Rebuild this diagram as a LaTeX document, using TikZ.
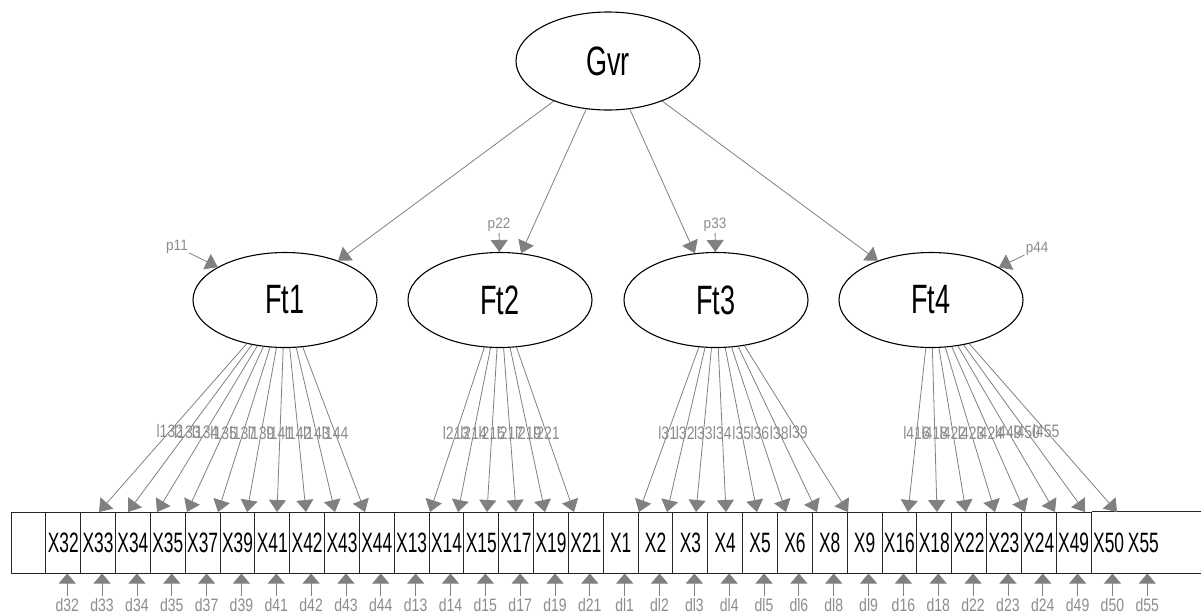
\documentclass[tikz,border=0pt]{standalone}
\usepackage{fontspec}
\setmainfont{Liberation Sans}
\newfontfamily\semwide[FakeStretch=0.66]{Liberation Sans}
\newfontfamily\semnarrow[FakeStretch=0.62]{Liberation Sans}
\newfontfamily\semsmall[FakeStretch=0.78]{Liberation Sans}
\newfontfamily\semtiny[FakeStretch=0.9]{Liberation Sans}
\usetikzlibrary{shapes.geometric, arrows.meta, positioning}
\definecolor{edge}{RGB}{128,128,128}
\definecolor{tag}{RGB}{140,140,140}

\begin{document}
\begin{tikzpicture}[x=1pt, y=-1pt,
    latent/.style={ellipse, draw=black, line width=1.1pt,
                   minimum width=184pt, minimum height=95pt, inner sep=0pt,
                   font=\semwide\fontsize{41}{41}\selectfont},
    obs/.style={rectangle, draw=black!85, line width=1pt,
                minimum width=34.84pt, minimum height=61pt, inner sep=0pt,
                font=\semnarrow\fontsize{28}{28}\selectfont},
    obsopen/.style={obs, draw=none},
    errlab/.style={font=\semsmall\fontsize{18}{18}\selectfont,
                   text=tag, inner sep=2pt},
    loadlab/.style={font=\semsmall\fontsize{18}{18}\selectfont,
                    text=tag, inner sep=0pt},
    varlab/.style={font=\semtiny\fontsize{15}{15}\selectfont,
                   text=tag, inner sep=1pt},
    flow/.style={-{Triangle[length=12pt,width=17pt]}, line width=0.8pt,
                 color=edge},
]
\useasboundingbox (0,0) rectangle (1201,614);

% ==========================================================
% Second-order factor and first-order factors
% ==========================================================
\node[latent, minimum height=98pt] (Gvr) at (608,61) {Gvr};
\node[latent] (Ft1) at (285,300) {Ft1};
\node[latent] (Ft2) at (500,300) {Ft2};
\node[latent] (Ft3) at (716,300) {Ft3};
\node[latent] (Ft4) at (931,300) {Ft4};

\draw[flow] (Gvr) -- (Ft1);
\draw[flow] (Gvr) -- (Ft2);
\draw[flow] (Gvr) -- (Ft3);
\draw[flow] (Gvr) -- (Ft4);

% disturbances of the factors
\node[varlab] (p11) at (177,247) {p11};
\node[varlab] (p22) at (499,225) {p22};
\node[varlab] (p33) at (715,225) {p33};
\node[varlab] (p44) at (1037,249) {p44};
\draw[flow] (p11) -- (Ft1);
\draw[flow] (p22) -- (Ft2);
\draw[flow] (p33) -- (Ft3);
\draw[flow] (p44) -- (Ft4);

% ==========================================================
% Row of observed items
% ==========================================================
\node[obs] (X0) at (28.42,542.5) {};
\foreach \v [count=\i] in {X32,X33,X34,X35,X37,X39,X41,X42,X43,X44,
                           X13,X14,X15,X17,X19,X21,X1,X2,X3,X4,X5,X6,X8,
                           X9,X16,X18,X22,X23,X24,X49}
  \node[obs] (\v) at ({28.42+34.84*\i},542.5) {\v};
\node[obsopen] (X50) at (1108.6,542.5) {X50};
\node[obsopen] (X55) at (1143.4,542.5) {X55};
\coordinate (rowend) at (1201,0);
\draw[line width=1pt, black!85] (X49.north east) -- (X49.north east -| rowend)
                                (X49.south east) -- (X49.south east -| rowend);

% measurement errors
\foreach \v [count=\i] in {d32,d33,d34,d35,d37,d39,d41,d42,d43,d44,
                           d13,d14,d15,d17,d19,d21,dl1,dl2,dl3,dl4,dl5,dl6,dl8,
                           dl9,d16,d18,d22,d23,d24,d49,d50,d55} {
  \node[errlab] (\v) at ({32.4+34.84*\i},605) {\v};
  \draw[flow, -{Triangle[length=10pt,width=17pt]}] (\v) -- (\v |- X0.south);
}

% ==========================================================
% Loadings (arrow ends as drawn on the item row)
% ==========================================================
\foreach \f/\v/\l/\x in {Ft1/X32/l132/99, Ft1/X33/l133/128, Ft1/X34/l134/157,
    Ft1/X35/l135/187, Ft1/X37/l137/218, Ft1/X39/l139/247, Ft1/X41/l141/277,
    Ft1/X42/l142/306, Ft1/X43/l143/335, Ft1/X44/l144/365,
    Ft2/X13/l213/430, Ft2/X14/l214/458, Ft2/X15/l215/487, Ft2/X17/l217/516,
    Ft2/X19/l219/545, Ft2/X21/l221/574,
    Ft3/X1/l31/639, Ft3/X2/l32/667, Ft3/X3/l33/696, Ft3/X4/l34/726,
    Ft3/X5/l35/757, Ft3/X6/l36/786, Ft3/X8/l38/817, Ft3/X9/l39/848,
    Ft4/X16/l416/908, Ft4/X18/l418/937, Ft4/X22/l422/966, Ft4/X23/l423/995,
    Ft4/X24/l424/1025, Ft4/X49/l449/1055, Ft4/X50/l450/1085,
    Ft4/X55/l455/1117} {
  \coordinate (e\v) at (\x,512);
  \draw[flow] (\f) -- (e\v) node[loadlab, pos=0.52] {\l};
}

\end{tikzpicture}
\end{document}
